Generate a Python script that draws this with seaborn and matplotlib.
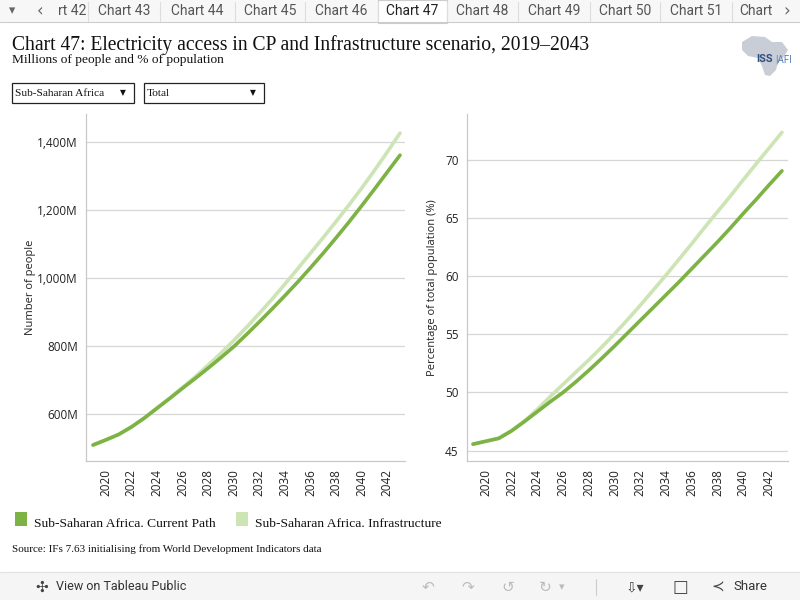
import numpy as np
import pandas as pd
import seaborn as sns
import matplotlib.pyplot as plt
from matplotlib.patches import Rectangle, Polygon
from matplotlib.ticker import FuncFormatter, FixedLocator

# Data
years = list(range(2019, 2044))

people_cp = [509, 524, 540, 562, 588, 617, 646, 676, 705, 735, 766, 798, 834,
             871, 909, 948, 988, 1030, 1073, 1118, 1164, 1212, 1261, 1311, 1361]
people_infra = [509, 524, 540, 562, 588, 618, 647, 678, 710, 744, 779, 816, 855,
                896, 938, 982, 1027, 1073, 1119, 1166, 1214, 1264, 1316, 1370, 1426]

pct_cp = [45.55, 45.8, 46.05, 46.7, 47.5, 48.35, 49.2, 50.0, 50.92, 51.9, 52.93, 54.0,
          55.1, 56.2, 57.3, 58.4, 59.5, 60.65, 61.8, 62.95, 64.15, 65.4, 66.6, 67.85, 69.06]
pct_infra = [45.55, 45.8, 46.05, 46.7, 47.55, 48.55, 49.65, 50.7, 51.75, 52.8, 53.9, 55.05,
             56.25, 57.5, 58.8, 60.1, 61.45, 62.8, 64.2, 65.55, 66.9, 68.3, 69.67, 71.02, 72.37]

scenarios = ["Sub-Saharan Africa. Current Path", "Sub-Saharan Africa. Infrastructure"]
colors = {scenarios[0]: "#7db344", scenarios[1]: "#cde4b4"}

tabs = ["rt 42", "Chart 43", "Chart 44", "Chart 45", "Chart 46", "Chart 47",
        "Chart 48", "Chart 49", "Chart 50", "Chart 51", "Chart"]

df_people = pd.DataFrame({
    "year": years * 2,
    "value": people_cp + people_infra,
    "scenario": [scenarios[0]] * len(years) + [scenarios[1]] * len(years),
})
df_pct = pd.DataFrame({
    "year": years * 2,
    "value": pct_cp + pct_infra,
    "scenario": [scenarios[0]] * len(years) + [scenarios[1]] * len(years),
})

sns.set_style("white")
plt.rcParams["font.family"] = ["Open Sans", "DejaVu Sans"]

fig = plt.figure(figsize=(8, 6), dpi=100)
W, H = 800, 600


def fx(px):
    return px / W


def fy(py):
    return 1 - py / H


# --- tab bar ---
fig.patches.append(Rectangle((0, fy(22)), 1, 22 / H, transform=fig.transFigure,
                             facecolor="#f7f7f7", edgecolor="none"))
fig.lines.append(plt.Line2D([0, 1], [fy(22), fy(22)], transform=fig.transFigure,
                            color="#cccccc", lw=0.8))
tab_edges = [88, 160, 235, 305, 378, 447, 518, 590, 660, 732, 780]
fig.patches.append(Rectangle((fx(378), fy(23)), 69 / W, 23 / H, transform=fig.transFigure,
                             facecolor="white", edgecolor="#cccccc", lw=0.8))
fig.text(fx(12), fy(11), "▾", fontsize=9, color="#666666", ha="center", va="center",
         family="DejaVu Sans")
fig.text(fx(40), fy(11), "‹", fontsize=12, color="#666666", ha="center", va="center",
         family="DejaVu Sans")
fig.text(fx(787), fy(11), "›", fontsize=12, color="#666666", ha="center", va="center",
         family="DejaVu Sans")
left_edge = 50
for i, name in enumerate(tabs):
    right_edge = tab_edges[i]
    fig.text(fx((left_edge + right_edge) / 2 + (3 if i == 0 else 0)), fy(11), name,
             fontsize=10, color="#222222" if name == "Chart 47" else "#555555",
             ha="center", va="center", family="Roboto")
    if i < len(tabs) - 1:
        fig.lines.append(plt.Line2D([fx(right_edge)] * 2, [fy(2), fy(21)],
                                    transform=fig.transFigure, color="#dddddd", lw=0.8))
    left_edge = right_edge

# --- titles ---
fig.text(fx(12), fy(45), "Chart 47: Electricity access in CP and Infrastructure scenario, 2019\u20132043",
         fontsize=14.1, family="Liberation Serif", va="center", color="#111111")
fig.text(fx(12), fy(60), "Millions of people and % of population",
         fontsize=9.6, family="Liberation Serif", va="center", color="#111111")

# logo approximation (grey map shape plus text)
africa = [(742, 42), (752, 36), (765, 37), (772, 42), (782, 42), (788, 50), (783, 58),
          (778, 62), (776, 70), (770, 76), (765, 75), (762, 66), (758, 58), (748, 56),
          (742, 50)]
fig.patches.append(Polygon([(fx(a), fy(b)) for a, b in africa], closed=True,
                           transform=fig.transFigure, facecolor="#c9cdd5", edgecolor="none"))
fig.text(fx(773), fy(59), "ISS", fontsize=8, color="#2f4f7f", weight="bold",
         ha="right", va="center", family="Roboto")
fig.text(fx(775), fy(59), "|AFI", fontsize=7, color="#5b7fb0", ha="left", va="center",
         family="Roboto")

# --- dropdowns ---
for x0, x1, label in [(12, 134, "Sub-Saharan Africa"), (144, 264, "Total")]:
    fig.patches.append(Rectangle((fx(x0), fy(103)), (x1 - x0) / W, 20 / H,
                                 transform=fig.transFigure, facecolor="white",
                                 edgecolor="#222222", lw=0.9))
    fig.text(fx(x0 + 3), fy(93), label, fontsize=8.2, family="Liberation Serif",
             va="center", color="#111111")
    fig.text(fx(x1 - 11), fy(93), "▼", fontsize=5.5, family="DejaVu Sans",
             ha="center", va="center", color="#111111")

# --- charts ---
ax1 = fig.add_axes([fx(86), fy(461), (405 - 86) / W, (461 - 114) / H])
ax2 = fig.add_axes([fx(467), fy(461), (788 - 467) / W, (461 - 114) / H])

sns.lineplot(data=df_people, x="year", y="value", hue="scenario", hue_order=scenarios[::-1],
             palette=colors, linewidth=2.6, ax=ax1, legend=False)
sns.lineplot(data=df_pct, x="year", y="value", hue="scenario", hue_order=scenarios[::-1],
             palette=colors, linewidth=2.6, ax=ax2, legend=False)

ax1.set_xlim(2018.45, 2043.39)
ax1.set_ylim(462, 1482)
ax1.yaxis.set_major_locator(FixedLocator([600, 800, 1000, 1200, 1400]))
ax1.yaxis.set_major_formatter(FuncFormatter(lambda v, p: f"{int(v):,}M"))
ax1.set_ylabel("Number of people", fontsize=8, color="#222222", labelpad=1)

ax2.set_xlim(2018.53, 2043.47)
ax2.set_ylim(44.1, 73.95)
ax2.yaxis.set_major_locator(FixedLocator([45, 50, 55, 60, 65, 70]))
ax2.set_ylabel("Percentage of total population (%)", fontsize=8, color="#222222", labelpad=5)

for ax in (ax1, ax2):
    ax.xaxis.set_major_locator(FixedLocator(list(range(2020, 2043, 2))))
    ax.set_xlabel("")
    ax.tick_params(axis="x", labelrotation=90, labelsize=8.5, length=0, pad=6, colors="#222222")
    ax.tick_params(axis="y", labelsize=8.5, length=0, pad=6, colors="#222222")
    ax.grid(axis="y", color="#d6d6d6", lw=0.9)
    ax.grid(axis="x", visible=False)
    for s in ("top", "right"):
        ax.spines[s].set_visible(False)
    for s in ("left", "bottom"):
        ax.spines[s].set_color("#c8c8c8")
        ax.spines[s].set_linewidth(0.9)

# --- legend ---
for x0, name in [(15, scenarios[0]), (236, scenarios[1])]:
    fig.patches.append(Rectangle((fx(x0), fy(526)), 12 / W, 14 / H, transform=fig.transFigure,
                                 facecolor=colors[name], edgecolor="none"))
    fig.text(fx(x0 + 19), fy(524), name, fontsize=9.7, family="Liberation Serif",
             va="center", color="#111111")

fig.text(fx(12), fy(549), "Source: IFs 7.63 initialising from World Development Indicators data",
         fontsize=8, family="Liberation Serif", va="center", color="#111111")

# --- bottom toolbar ---
fig.patches.append(Rectangle((0, 0), 1, 28 / H, transform=fig.transFigure,
                             facecolor="#f5f5f5", edgecolor="none"))
fig.lines.append(plt.Line2D([0, 1], [fy(572), fy(572)], transform=fig.transFigure,
                            color="#e0e0e0", lw=0.8))
fig.text(fx(42), fy(587), "✣", fontsize=11, color="#444444", ha="center", va="center",
         family="DejaVu Sans")
fig.text(fx(56), fy(587), "View on Tableau Public", fontsize=9, color="#333333",
         va="center", family="Roboto")
for xp, sym in [(428, "↶"), (468, "↷"), (508, "↺"), (545, "↻")]:
    fig.text(fx(xp), fy(587), sym, fontsize=11, color="#bbbbbb", ha="center", va="center",
             family="DejaVu Sans")
fig.text(fx(562), fy(587), "▾", fontsize=8, color="#bbbbbb", ha="center", va="center",
         family="DejaVu Sans")
fig.lines.append(plt.Line2D([fx(596)] * 2, [fy(579), fy(595)], transform=fig.transFigure,
                            color="#cccccc", lw=0.8))
fig.text(fx(635), fy(587), "⇩▾", fontsize=10, color="#444444", ha="center", va="center",
         family="DejaVu Sans")
fig.text(fx(680), fy(587), "□", fontsize=12, color="#444444", ha="center", va="center",
         family="DejaVu Sans")
fig.text(fx(718), fy(587), "≺", fontsize=11, color="#444444", ha="center", va="center",
         family="DejaVu Sans")
fig.text(fx(733), fy(587), "Share", fontsize=9.5, color="#333333", va="center", family="Roboto")

fig.savefig("out.png", dpi=100)
